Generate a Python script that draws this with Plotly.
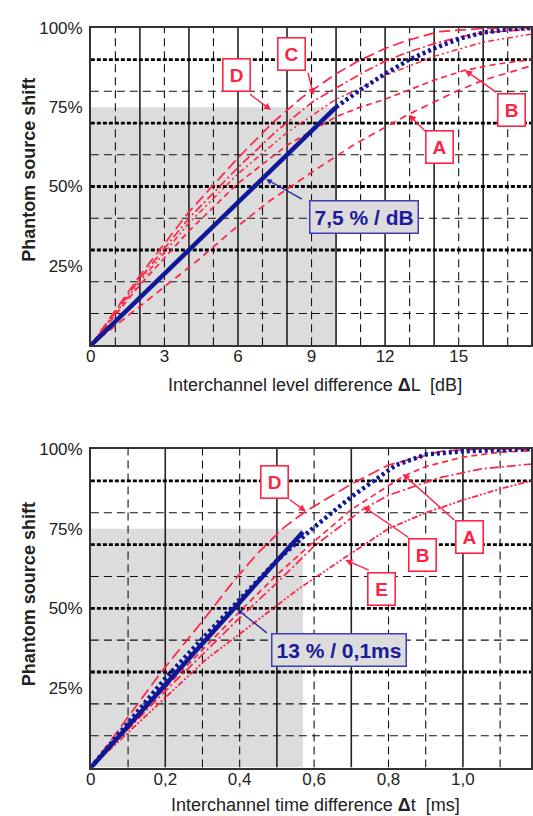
import plotly.graph_objects as go

W, H = 533, 816

# ---------------- data: top chart (interchannel level difference, dB) ----------------
lvl_blue_x = [0, 10]
lvl_blue_y = [0, 75]
lvl_blue_dot_x = [10, 11, 12, 13, 14, 15, 16, 17, 17.95]
lvl_blue_dot_y = [75, 80.5, 85.5, 90, 93.5, 96.5, 98.5, 99.5, 100]

lvl_D_x = [0, 2, 4, 6, 7.4, 8.6, 10, 10.9, 12, 12.9, 14.2, 16, 17.95]
lvl_D_y = [0, 22, 42, 59, 70, 78, 85.5, 89.5, 93.5, 96, 98.8, 99.8, 100]
lvl_C_x = [0, 2, 4, 6, 7.5, 9.1, 10, 11, 12, 13, 14, 15, 16, 17.95]
lvl_C_y = [0, 21, 40, 56, 67, 77, 81, 85.5, 89.5, 92.5, 95, 97, 98.5, 99.5]
lvl_X_x = [0, 2, 4, 6, 8, 10, 11, 12, 14, 16, 17.95]
lvl_X_y = [0, 20, 38.5, 54, 67, 77.5, 81, 85, 91, 95.5, 98]
lvl_B_x = [0, 2, 4, 6, 8, 10, 11, 12, 13, 14, 15.2, 16.5, 17.95]
lvl_B_y = [0, 19, 36, 51, 63, 72, 75, 77.5, 80.5, 83.5, 86.5, 88.5, 90]
lvl_A_x = [0, 1.3, 2.7, 4.4, 5.9, 7.3, 9.2, 10, 10.8, 12.9, 14.9, 16, 17.95]
lvl_A_y = [0, 8, 16.5, 27, 37, 45.5, 55.5, 59.5, 63.5, 72.5, 80, 83.5, 88]

lvl_tick_vals = [0, 3, 6, 9, 12, 15]
lvl_tick_text = ["0", "3", "6", "9", "12", "15"]
lvl_grid_solid = [2, 4, 6, 8, 10, 12, 14, 16]
lvl_grid_dash = [1, 3, 5, 7, 9, 11, 13, 15, 17]
lvl_range = [0, 17.95]
lvl_shade = [0, 10, 0, 75]

# ---------------- data: bottom chart (interchannel time difference, ms) ----------------
tim_blue_x = [0, 0.57]
tim_blue_y = [0, 74]
tim_blue_dot_x = [0, 0.1, 0.2, 0.3, 0.4, 0.5, 0.59, 0.7, 0.82, 0.9, 1.0, 1.1, 1.183]
tim_blue_dot_y = [0, 14, 28, 40.5, 52.5, 65, 74.5, 85, 95, 98.3, 99.3, 99.8, 100]

tim_D_x = [0, 0.1, 0.186, 0.255, 0.3, 0.387, 0.45, 0.52, 0.578, 0.7, 0.8, 0.945, 1.05, 1.183]
tim_D_y = [0, 16, 29.5, 39.5, 46, 59, 67.5, 75.5, 80.5, 89, 95, 99.4, 100, 100]
tim_A_x = [0, 0.1, 0.2, 0.3, 0.4, 0.5, 0.6, 0.7, 0.84, 0.9, 1.0, 1.1, 1.183]
tim_A_y = [0, 12.5, 25, 37, 49, 60.5, 71, 81, 91.5, 94.5, 97.5, 99, 99.5]
tim_B_x = [0, 0.1, 0.2, 0.3, 0.4, 0.5, 0.6, 0.73, 0.8, 0.936, 1.05, 1.183]
tim_B_y = [0, 12, 24, 35.5, 47, 58, 69.5, 81, 85.5, 91, 93.8, 95.3]
tim_E_x = [0, 0.1, 0.2, 0.31, 0.406, 0.5, 0.557, 0.69, 0.8, 0.9, 1.0, 1.1, 1.183]
tim_E_y = [0, 11, 22, 34, 42.5, 51, 56, 66.5, 75, 80, 84, 87.5, 90]

tim_tick_vals = [0, 0.2, 0.4, 0.6, 0.8, 1.0]
tim_tick_text = ["0", "0,2", "0,4", "0,6", "0,8", "1,0"]
tim_grid_solid = [0.2, 0.5, 0.7, 1.0]
tim_grid_dash = [0.1, 0.3, 0.4, 0.6, 0.8, 0.9, 1.1]
tim_range = [0, 1.183]
tim_shade = [0, 0.57, 0, 75]

# shared y axis
y_range = [0, 100]
y_tick_vals = [25, 50, 75, 100]
y_tick_text = ["25%", "50%", "75%", "100%"]
y_grid_heavy = [30, 50, 70, 90]
y_grid_thin = [10, 20, 40, 60, 80]

# label boxes: (text, box_x, box_y, arrow_from_x, arrow_from_y, tip_x, tip_y)
lvl_labels = [
    ("C", 8.19, 91.9, 8.84, 86.3, 9.08, 78.8),
    ("D", 5.94, 85.0, 6.43, 79.4, 7.35, 74.1),
    ("B", 17.15, 74.1, 16.59, 79.4, 15.26, 86.6),
    ("A", 14.22, 62.3, 13.69, 67.0, 12.97, 72.6),
]
lvl_slope = ("7,5 % / dB", 11.12, 40.5, 8.67, 45.8, 7.15, 52.3)
tim_labels = [
    ("D", 0.493, 89.8, 0.53, 84.5, 0.578, 80.4),
    ("A", 1.019, 72.4, 0.981, 77.3, 0.838, 92.2),
    ("B", 0.891, 66.8, 0.857, 72.0, 0.732, 82.0),
    ("E", 0.78, 56.2, 0.751, 61.8, 0.684, 65.2),
]
tim_slope = ("13 % / 0,1ms", 0.668, 37.0, 0.477, 41.9, 0.393, 49.7)

# ---------------- styling ----------------
RED = "#ff2444"
BLUE = "#0f1896"
FONT = "Liberation Sans"


def py(p):
    return 1 - p / H


def px(p):
    return p / W


fig = go.Figure()


def add_line(x, y, xa, ya, color, width, dash):
    fig.add_trace(go.Scatter(x=x, y=y, xaxis=xa, yaxis=ya, mode="lines",
                             line=dict(color=color, width=width, dash=dash),
                             showlegend=False, hoverinfo="skip"))


# top chart traces
add_line(lvl_A_x, lvl_A_y, "x", "y", RED, 1.7, "7px,5px")
add_line(lvl_B_x, lvl_B_y, "x", "y", RED, 1.7, "6px,4px")
add_line(lvl_X_x, lvl_X_y, "x", "y", RED, 1.5, "6px,3px,2px,3px,2px,3px")
add_line(lvl_C_x, lvl_C_y, "x", "y", RED, 1.7, "9px,3px,2px,3px")
add_line(lvl_D_x, lvl_D_y, "x", "y", RED, 1.7, "11px,5px")
add_line(lvl_blue_x, lvl_blue_y, "x", "y", BLUE, 4.5, "solid")
add_line(lvl_blue_dot_x, lvl_blue_dot_y, "x", "y", BLUE, 4.5, "3px,3px")

# bottom chart traces
add_line(tim_E_x, tim_E_y, "x2", "y2", RED, 1.8, "2px,2px,2px,2px,6px,2px")
add_line(tim_B_x, tim_B_y, "x2", "y2", RED, 1.7, "9px,3px,2px,3px")
add_line(tim_A_x, tim_A_y, "x2", "y2", RED, 1.7, "6px,4px")
add_line(tim_D_x, tim_D_y, "x2", "y2", RED, 1.7, "12px,5px")
add_line(tim_blue_x, tim_blue_y, "x2", "y2", BLUE, 4.5, "solid")
add_line(tim_blue_dot_x, tim_blue_dot_y, "x2", "y2", BLUE, 4.5, "3px,3px")

shapes = []


def grid(xa, ya, xrng, shade, solid, dash):
    # every shape uses plain data refs so all sit in the same subplot layer, in order
    shapes.append(dict(type="rect", xref=xa, yref=ya, x0=shade[0], x1=shade[1],
                       y0=shade[2], y1=shade[3], fillcolor="#dcdcdc",
                       line=dict(width=0), layer="below"))
    for v in solid:
        shapes.append(dict(type="line", xref=xa, yref=ya, x0=v, x1=v,
                           y0=y_range[0], y1=y_range[1],
                           line=dict(color="#222", width=1.6), layer="below"))
    for v in dash:
        shapes.append(dict(type="line", xref=xa, yref=ya, x0=v, x1=v,
                           y0=y_range[0], y1=y_range[1],
                           line=dict(color="#111", width=1.1, dash="8px,5px"), layer="below"))
    for v in y_grid_thin:
        shapes.append(dict(type="line", xref=xa, yref=ya, x0=xrng[0], x1=xrng[1], y0=v, y1=v,
                           line=dict(color="#111", width=1.1, dash="8px,5px"), layer="below"))
    for v in y_grid_heavy:
        shapes.append(dict(type="line", xref=xa, yref=ya, x0=xrng[0], x1=xrng[1], y0=v, y1=v,
                           line=dict(color="#000", width=2.8, dash="4px,2px"), layer="below"))


grid("x", "y", lvl_range, lvl_shade, lvl_grid_solid, lvl_grid_dash)
grid("x2", "y2", tim_range, tim_shade, tim_grid_solid, tim_grid_dash)

annotations = []


def labels(items, slope, xa, ya):
    for t, bx, by, fx, fy, tx, ty in items:
        annotations.append(dict(xref=xa, yref=ya, x=tx, y=ty, ax=fx, ay=fy,
                                axref=xa, ayref=ya, text="", showarrow=True,
                                arrowhead=2, arrowsize=1, arrowwidth=1.4, arrowcolor=RED))
        annotations.append(dict(xref=xa, yref=ya, x=bx, y=by, text="<b>%s</b>" % t,
                                showarrow=False, font=dict(family=FONT, size=19, color=RED),
                                bgcolor="white", bordercolor=RED, borderwidth=1.6,
                                borderpad=4, width=18, height=23,
                                xanchor="center", yanchor="middle"))
    t, bx, by, fx, fy, tx, ty = slope
    annotations.append(dict(xref=xa, yref=ya, x=tx, y=ty, ax=fx, ay=fy,
                            axref=xa, ayref=ya, text="", showarrow=True,
                            arrowhead=2, arrowsize=0.8, arrowwidth=1.4, arrowcolor="#2a2aa6"))
    annotations.append(dict(xref=xa, yref=ya, x=bx, y=by, text="<b>%s</b>" % t,
                            showarrow=False, font=dict(family=FONT, size=21, color="#1a1a9c"),
                            bgcolor="#dcdcdc", bordercolor="#3c3cb4", borderwidth=1.5,
                            borderpad=4, xanchor="center", yanchor="middle"))


labels(lvl_labels, lvl_slope, "x", "y")
labels(tim_labels, tim_slope, "x2", "y2")

# axis titles
title_font = dict(family=FONT, size=18, color="#222")
annotations += [
    dict(xref="paper", yref="paper", x=px(25), y=py(163), text="<b>Phantom source shift</b>",
         textangle=-90, showarrow=False, font=title_font, xanchor="center", yanchor="middle"),
    dict(xref="paper", yref="paper", x=px(25), y=py(592), text="<b>Phantom source shift</b>",
         textangle=-90, showarrow=False, font=title_font, xanchor="center", yanchor="middle"),
    dict(xref="paper", yref="paper", x=px(314), y=py(380),
         text="Interchannel level difference <b>Δ</b>L  [dB]",
         showarrow=False, font=title_font, xanchor="center", yanchor="middle"),
    dict(xref="paper", yref="paper", x=px(315), y=py(805),
         text="Interchannel time difference <b>Δ</b>t  [ms]",
         showarrow=False, font=title_font, xanchor="center", yanchor="middle"),
]

tick_font = dict(family=FONT, size=17, color="#222")
common_x = dict(showgrid=False, zeroline=False, showline=True, mirror=True,
                linecolor="#333", linewidth=1.6, ticks="", ticklen=0, tickfont=tick_font,
                ticklabelstandoff=-5, fixedrange=True)
common_y = dict(showgrid=False, zeroline=False, showline=True, mirror=True,
                linecolor="#333", linewidth=1.6, ticks="", ticklen=0, tickfont=tick_font,
                range=y_range, tickvals=y_tick_vals, ticktext=y_tick_text,
                ticklabelstandoff=3, fixedrange=True)

fig.update_layout(
    width=W, height=H,
    margin=dict(l=0, r=0, t=0, b=0),
    paper_bgcolor="white", plot_bgcolor="white",
    showlegend=False,
    xaxis=dict(common_x, domain=[px(87), 1.0], range=lvl_range,
               tickvals=lvl_tick_vals, ticktext=lvl_tick_text, anchor="y"),
    yaxis=dict(common_y, domain=[py(340), py(19)], anchor="x"),
    xaxis2=dict(common_x, domain=[px(87), 1.0], range=tim_range,
                tickvals=tim_tick_vals, ticktext=tim_tick_text, anchor="y2"),
    yaxis2=dict(common_y, domain=[py(767), py(445)], anchor="x2"),
    shapes=shapes,
    annotations=annotations,
)

fig.write_html("out.html")
